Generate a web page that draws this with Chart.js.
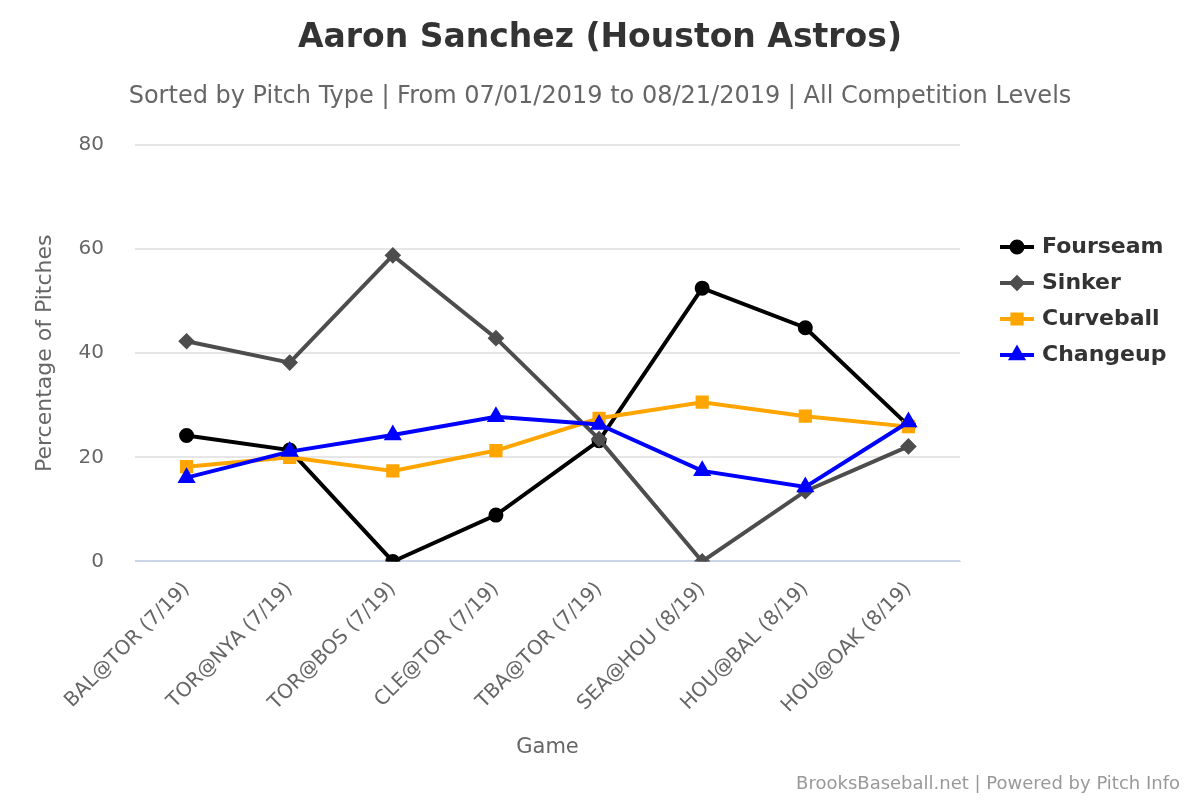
<!DOCTYPE html>
<html>
<head>
<meta charset="utf-8">
<script src="https://cdn.jsdelivr.net/npm/chart.js@4"></script>
<style>
  body { margin: 0; background: #fff; }
  #wrap { width: 1200px; height: 800px; position: relative; }
</style>
</head>
<body>
<div id="wrap"><canvas id="myChart"></canvas></div>
<script>
const games = [
  "BAL@TOR (7/19)",
  "TOR@NYA (7/19)",
  "TOR@BOS (7/19)",
  "CLE@TOR (7/19)",
  "TBA@TOR (7/19)",
  "SEA@HOU (8/19)",
  "HOU@BAL (8/19)",
  "HOU@OAK (8/19)",
];
const fourseam = [24.2, 21.4, 0, 8.9, 23.2, 52.5, 44.9, 26.1];
const sinker = [42.3, 38.2, 58.8, 42.9, 23.5, 0, 13.5, 22.1];
const curveball = [18.2, 20.0, 17.4, 21.3, 27.5, 30.6, 27.9, 25.9];
const changeup = [16.1, 21.1, 24.3, 27.8, 26.3, 17.4, 14.3, 26.8];
const yTicks = [0, 20, 40, 60, 80];

const FONT = "'DejaVu Sans', sans-serif";

// titles, legend (line + marker) and credits drawn by hand like the original
const decorations = {
  id: "decorations",
  afterDraw(chart) {
    const c = chart.ctx;
    c.save();
    c.textBaseline = "middle";
    c.textAlign = "center";
    c.fillStyle = "#333";
    c.font = "bold 33px " + FONT;
    c.fillText("Aaron Sanchez (Houston Astros)", 600, 38);
    c.fillStyle = "#666";
    c.font = "24px " + FONT;
    c.fillText("Sorted by Pitch Type | From 07/01/2019 to 08/21/2019 | All Competition Levels", 600, 97);

    chart.data.datasets.forEach((ds, i) => {
      const y = 247 + i * 36;
      c.strokeStyle = ds.borderColor;
      c.lineWidth = 4;
      c.beginPath();
      c.moveTo(1000, y);
      c.lineTo(1034, y);
      c.stroke();
      c.fillStyle = ds.pointBackgroundColor;
      c.strokeStyle = ds.pointBackgroundColor;
      Chart.helpers.drawPoint(c, {
        pointStyle: ds.pointStyle,
        radius: ds.pointRadius,
        borderWidth: 1,
      }, 1017, y);
      c.font = "bold 22px " + FONT;
      c.fillStyle = "#333";
      c.textAlign = "left";
      c.fillText(ds.label, 1042, y);
    });

    c.font = "18px " + FONT;
    c.fillStyle = "#999";
    c.textAlign = "right";
    c.fillText("BrooksBaseball.net | Powered by Pitch Info", 1180, 784);
    c.restore();
  },
};

function series(label, data, color, style, r, order) {
  return {
    label: label,
    data: data,
    borderColor: color,
    backgroundColor: color,
    pointBackgroundColor: color,
    pointBorderColor: color,
    pointStyle: style,
    pointRadius: r,
    pointHoverRadius: r,
    borderWidth: 4,
    tension: 0,
    order: order,
  };
}

const ctx = document.getElementById("myChart");

new Chart(ctx, {
  type: "line",
  data: {
    labels: games,
    datasets: [
      series("Fourseam", fourseam, "#000000", "circle", 5.5, 3),
      series("Sinker", sinker, "#4d4d4d", "rectRot", 5.5, 2),
      series("Curveball", curveball, "#ffa500", "rect", 6.5, 1),
      series("Changeup", changeup, "#0000ff", "triangle", 6.5, 0),
    ],
  },
  options: {
    responsive: true,
    maintainAspectRatio: false,
    animation: false,
    devicePixelRatio: 1,
    layout: {
      padding: { top: 145, right: 240, bottom: 40, left: 32 },
    },
    plugins: {
      legend: { display: false },
      tooltip: { enabled: false },
    },
    scales: {
      x: {
        offset: true,
        grid: { display: false },
        border: { color: "#ccd6eb", width: 1 },
        ticks: {
          color: "#666",
          font: { family: FONT, size: 20 },
          minRotation: 45,
          maxRotation: 45,
          padding: 8,
        },
        title: {
          display: true,
          text: "Game",
          color: "#666",
          font: { family: FONT, size: 21 },
          padding: { top: 9, bottom: 0 },
        },
        afterFit(axis) {
          // rotated labels fit under the y axis, as in the original
          axis.paddingLeft = 0;
        },
      },
      y: {
        min: 0,
        max: 80,
        afterBuildTicks(axis) {
          axis.ticks = yTicks.map((v) => ({ value: v }));
        },
        afterFit(axis) {
          axis.width = 103;
        },
        grid: {
          color: (c) => (c.tick && c.tick.value === 0 ? "#ccd6eb" : "#e6e6e6"),
          lineWidth: 2,
          drawTicks: false,
        },
        border: { display: false },
        ticks: {
          color: "#666",
          font: { family: FONT, size: 20 },
          padding: 31,
        },
        title: {
          display: true,
          text: "Percentage of Pitches",
          color: "#666",
          font: { family: FONT, size: 22 },
          padding: { top: 0, bottom: 0 },
        },
      },
    },
  },
  plugins: [decorations],
});
</script>
</body>
</html>
